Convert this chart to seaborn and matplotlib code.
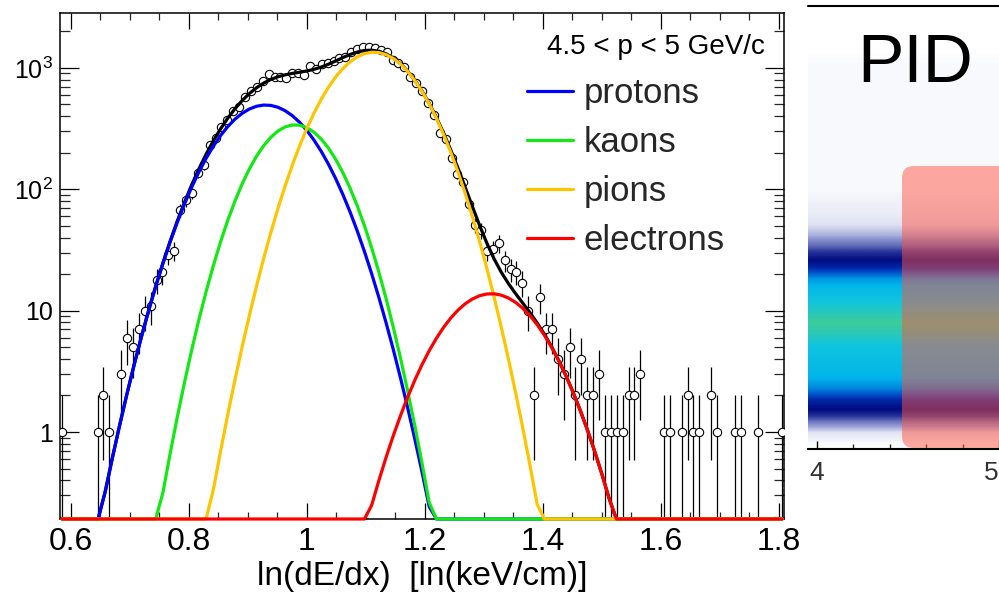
import numpy as np
import matplotlib
matplotlib.use("Agg")
import matplotlib.pyplot as plt
import seaborn as sns
from matplotlib.colors import LinearSegmentedColormap
from matplotlib.patches import FancyBboxPatch
from matplotlib.lines import Line2D
from matplotlib.ticker import FixedLocator, FixedFormatter, NullFormatter, LogLocator

# ---------------- data ----------------
bin_centers = [0.585, 0.645, 0.655, 0.665, 0.685, 0.695, 0.705, 0.715, 0.725, 0.735,
               0.745, 0.755, 0.765, 0.775, 0.785, 0.795, 0.805, 0.815, 0.825, 0.835,
               0.845, 0.855, 0.865, 0.875, 0.885, 0.895, 0.905, 0.915, 0.925, 0.935,
               0.945, 0.955, 0.965, 0.975, 0.985, 0.995, 1.005, 1.015, 1.025, 1.035,
               1.045, 1.055, 1.065, 1.075, 1.085, 1.095, 1.105, 1.115, 1.125, 1.135,
               1.145, 1.155, 1.165, 1.175, 1.185, 1.195, 1.205, 1.215, 1.225, 1.235,
               1.245, 1.255, 1.265, 1.275, 1.285, 1.295, 1.305, 1.315, 1.325, 1.335,
               1.345, 1.355, 1.365, 1.375, 1.385, 1.395, 1.405, 1.415, 1.425, 1.435,
               1.445, 1.455, 1.465, 1.475, 1.485, 1.495, 1.505, 1.515, 1.525, 1.535,
               1.545, 1.555, 1.565, 1.605, 1.615, 1.635, 1.645, 1.655, 1.665, 1.685,
               1.695, 1.725, 1.735, 1.765, 1.805]
counts = [1, 1, 2, 1, 3, 6, 5, 7, 10, 11,
          18, 21, 29, 31, 67, 81, 93, 135, 158, 231,
          264, 325, 373, 443, 475, 581, 647, 702, 787, 887,
          838, 838, 823, 915, 915, 880, 1030, 980, 1070, 1090,
          1140, 1215, 1240, 1360, 1430, 1500, 1500, 1450, 1400, 1360,
          1160, 1090, 1020, 850, 750, 640, 510, 410, 293, 259,
          181, 134, 114, 76, 51, 46, 31, 32, 36, 26,
          22, 21, 17, 10, 2, 13, 7, 7, 4, 3,
          5, 2, 4, 2, 2, 3, 1, 1, 1, 1,
          2, 2, 3, 1, 1, 1, 2, 1, 1, 2,
          1, 1, 1, 1, 1]

species = ["protons", "kaons", "pions", "electrons"]
species_colors = ["#0000ff", "#12e812", "#ffc400", "#ff0000"]
fit_amplitude = [495, 340, 1350, 13.8]
fit_mean = [0.930, 0.980, 1.1135, 1.3125]
fit_sigma = [0.071, 0.060, 0.0668, 0.0716]
fit_range = [0.585, 1.805]
fit_npx = 101

x_tick_values = [0.6, 0.8, 1.0, 1.2, 1.4, 1.6, 1.8]
x_tick_labels = ["0.6", "0.8", "1", "1.2", "1.4", "1.6", "1.8"]
y_tick_values = [1, 10, 100, 1000]
y_tick_labels = ["1", "10", r"$\mathregular{10^{2}}$", r"$\mathregular{10^{3}}$"]
momentum_label = "4.5 < p < 5 GeV/c"
x_label = "ln(dE/dx)  [ln(keV/cm)]"

# right-hand cropped panel: band intensity per row (bottom -> top)
band_profile = [0.01, 0.06, 0.20, 0.40, 0.52, 0.70, 0.80, 0.84, 0.87, 0.90,
                0.96, 1.00, 0.95, 0.90, 0.84, 0.74, 0.52, 0.38, 0.22, 0.12,
                0.06, 0.04, 0.03, 0.015, 0.015, 0.015, 0.015, 0.015, 0.015, 0.015,
                0.015, 0.015, 0.015, 0.015, 0.015, 0.01, 0.0, 0.0, 0.0, 0.0]
band_major_ticks = [4, 5]
band_major_labels = ["4", "5"]
band_minor_ticks = [4.2, 4.4, 4.6, 4.8]
panel_title = "PID"

# ---------------- style ----------------
sns.set_theme(style="white")
plt.rcParams["font.family"] = ["Liberation Sans", "DejaVu Sans"]
plt.rcParams["mathtext.fontset"] = "custom"
plt.rcParams["mathtext.rm"] = "Liberation Sans"
plt.rcParams["mathtext.it"] = "Liberation Sans:italic"
plt.rcParams["mathtext.bf"] = "Liberation Sans:bold"

fig = plt.figure(figsize=(9.99, 5.97), dpi=100)
fig.patch.set_facecolor("white")

# ---------------- main panel ----------------
ax = fig.add_axes([60 / 999, 1 - 519 / 597, 724 / 999, 506 / 597])
ax.set_facecolor("white")
ax.set_yscale("log")
ylo, yhi = 0.192, 2836
ax.set_xlim(0.5814, 1.8085)
ax.set_ylim(ylo, yhi)

cnt = np.array(counts, dtype=float)
err = np.sqrt(cnt)
lower = cnt - np.maximum(cnt - err, 1e-3)
ax.errorbar(bin_centers, counts, yerr=[lower, err], fmt="none", ecolor="black",
            elinewidth=0.9, capsize=0, zorder=2)
sns.scatterplot(x=bin_centers, y=counts, ax=ax, marker="o", s=36, color="white",
                edgecolor="black", linewidth=0.8, zorder=3, legend=False)

xs = np.linspace(fit_range[0], fit_range[1], fit_npx)
comps = [a * np.exp(-0.5 * ((xs - m) / s) ** 2)
         for a, m, s in zip(fit_amplitude, fit_mean, fit_sigma)]
total = np.sum(comps, axis=0)
sns.lineplot(x=xs, y=np.maximum(total, ylo), ax=ax, color="black", lw=2.3,
             estimator=None, sort=False, zorder=4, clip_on=False)
for i, (yc, col, name) in enumerate(zip(comps, species_colors, species)):
    sns.lineplot(x=xs, y=np.maximum(yc, ylo), ax=ax, color=col, lw=2.3,
                 estimator=None, sort=False, zorder=5 + i, clip_on=False,
                 label=name)

ax.xaxis.set_major_locator(FixedLocator(x_tick_values))
ax.xaxis.set_major_formatter(FixedFormatter(x_tick_labels))
ax.xaxis.set_minor_locator(FixedLocator(np.arange(0.6, 1.81, 0.05)))
ax.yaxis.set_major_locator(FixedLocator(y_tick_values))
ax.yaxis.set_major_formatter(FixedFormatter(y_tick_labels))
ax.yaxis.set_minor_locator(LogLocator(base=10, subs=np.arange(2, 10), numticks=20))
ax.yaxis.set_minor_formatter(NullFormatter())

ax.tick_params(axis="x", which="major", direction="in", length=11.5, width=0.9,
               top=True, bottom=True, labelsize=23, pad=6, colors="black")
ax.tick_params(axis="x", which="minor", direction="in", length=5, width=0.9,
               top=True, bottom=True)
ax.tick_params(axis="y", which="major", direction="in", length=14, width=0.9,
               left=True, right=True, labelsize=18, pad=5, colors="black")
ax.tick_params(axis="y", which="minor", direction="in", length=7, width=0.9,
               left=True, right=True)
for sp in ax.spines.values():
    sp.set_color("black")
    sp.set_linewidth(1.1)

ax.set_xlabel(x_label, fontsize=24, color="black")
ax.xaxis.set_label_coords(0.5, (519 - 577) / 506)
ax.xaxis.label.set_va("center")
ax.set_ylabel("")

ax.text((765 - 60) / 724, (519 - 54) / 506, momentum_label, transform=ax.transAxes,
        ha="right", va="baseline", fontsize=20, color="black")

leg = ax.legend(loc="upper left", bbox_to_anchor=((527 - 60) / 724, (519 - 77) / 506),
                frameon=False, fontsize=25, handlelength=1.33, handletextpad=0.29,
                labelspacing=0.46, borderpad=0, borderaxespad=0)
for h in leg.legend_handles:
    h.set_linewidth(2.3)

# ---------------- right cropped panel ----------------
cmap = LinearSegmentedColormap.from_list(
    "band",
    [(0.0, "#ffffff"), (0.02, "#f4f5fb"), (0.06, "#dfe2f2"), (0.15, "#8e97d0"),
     (0.3, "#28349a"), (0.42, "#000c80"), (0.52, "#0028a8"), (0.62, "#0058cc"),
     (0.72, "#008ee0"), (0.8, "#00b4ea"), (0.9, "#10c4e0"), (1.0, "#3ccc9c")])

ax2 = fig.add_axes([808 / 999, 1 - 449 / 597, 200 / 999, 439 / 597])
ax2.set_facecolor("white")
prof = np.array(band_profile).reshape(-1, 1)
ax2.imshow(prof, extent=[3.9505, 5.05, 0, 10], origin="lower", aspect="auto",
           cmap=cmap, vmin=0, vmax=1, interpolation="bilinear")
ax2.set_xlim(3.9505, 5.05)
ax2.set_ylim(0, 10)
for k in ["left", "right", "top"]:
    ax2.spines[k].set_visible(False)
ax2.spines["bottom"].set_color("black")
ax2.spines["bottom"].set_linewidth(1.5)
ax2.xaxis.set_major_locator(FixedLocator(band_major_ticks))
ax2.xaxis.set_major_formatter(FixedFormatter(band_major_labels))
ax2.xaxis.set_minor_locator(FixedLocator(band_minor_ticks))
ax2.set_yticks([])
ax2.tick_params(axis="x", which="major", direction="in", length=5.5, width=1.0,
                labelsize=19, pad=9, labelcolor="#333333", color="black", bottom=True)
ax2.tick_params(axis="x", which="minor", direction="in", length=3.5, width=1.0,
                bottom=True)
# keep the cut-off "5" readable inside the figure edge
tl = ax2.get_xticklabels()
fig.canvas.draw()
for lab in ax2.xaxis.get_majorticklabels():
    if lab.get_text() == "5":
        lab.set_horizontalalignment("right")

box = FancyBboxPatch((9.02, 1.49), 1.5, 2.82,
                     boxstyle="round,pad=0,rounding_size=0.12",
                     transform=fig.dpi_scale_trans, facecolor=(1.0, 0.33, 0.26),
                     alpha=0.5, edgecolor="none", zorder=5)
fig.add_artist(box)

fig.add_artist(Line2D([808 / 999, 1.0], [1 - 6 / 597, 1 - 6 / 597], color="black",
                      lw=1.5, transform=fig.transFigure))
fig.text(915 / 999, 1 - 82 / 597, panel_title, fontsize=50, ha="center",
         va="baseline", color="black")

fig.savefig("out.png", dpi=100, facecolor="white")
